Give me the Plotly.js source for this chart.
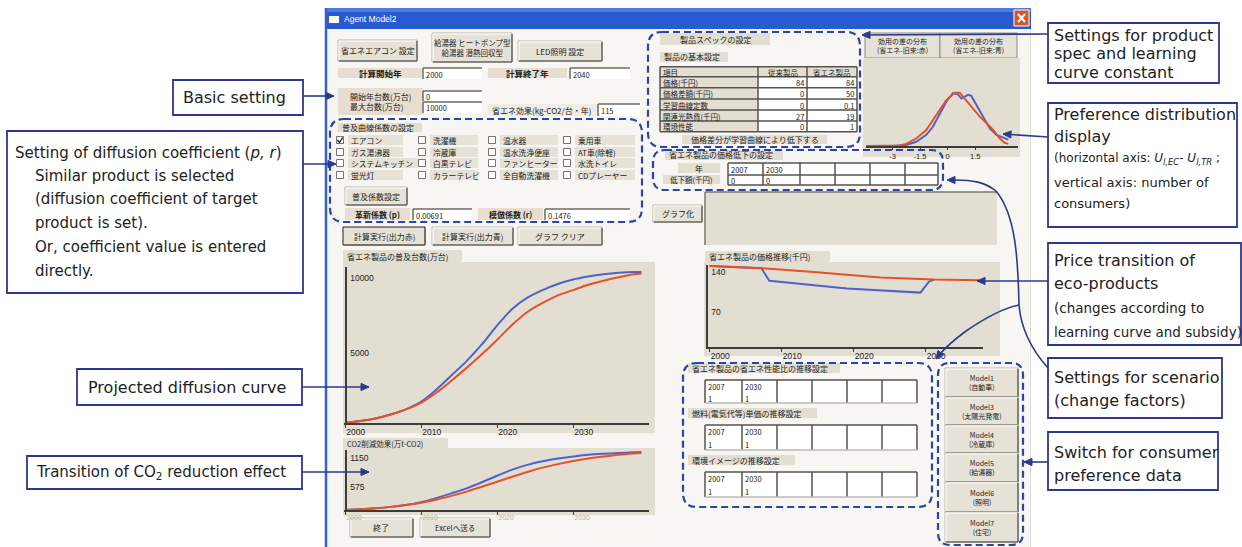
<!DOCTYPE html>
<html><head><meta charset="utf-8">
<script src="https://cdn.plot.ly/plotly-3.0.1.min.js"></script>
<style>html,body{margin:0;padding:0;background:#fff;overflow:hidden}#chart{width:1242px;height:547px}</style>
</head><body><div id="chart"></div>
<script>
// ================= DATA =================
const diffusionYears = [2000,2002,2004,2006,2008,2010,2012,2014,2016,2018,2020,2022,2024,2026,2028,2030,2032,2034,2036,2038,2039];
const diffusionRed   = [0,130,300,560,900,1330,2000,2800,3650,4550,5500,6500,7350,7950,8450,8800,9150,9420,9650,9850,9900];
const diffusionBlue  = [0,130,300,560,900,1400,2200,3150,4100,5200,6450,7550,8300,8800,9200,9500,9700,9850,9950,10000,10000];
const co2Years = [2000,2002,2004,2006,2008,2010,2012,2014,2016,2018,2020,2022,2024,2026,2028,2030,2032,2034,2036,2038,2039];
const co2Red   = [0,15,35,62,100,145,205,280,365,460,560,660,755,840,910,970,1020,1060,1095,1120,1130];
const co2Blue  = [0,15,35,62,100,155,235,330,430,550,680,800,895,965,1020,1060,1095,1115,1130,1145,1150];
const priceYearsRed  = [2000,2007.4,2014.9,2023.7,2031.2,2037.6];
const priceRed       = [140,136,129,120,116.5,115.5];
const priceYearsBlue = [2000,2007.2,2008.3,2019.1,2029.3,2030.5,2031.2];
const priceBlue      = [140,136,114.5,101,94,113,116.5];
const prefRedX  = [-4.44,-2.99,-2.6,-2.26,-1.71,-1.16,-0.80,-0.44,-0.07,0.38,0.66,0.93,1.38,1.75,2.11,2.48,2.84,3.11,3.30];
const prefRedY  = [0,0,1,4,14,30,49,69,86,100,100,89,71,55,43,30,14,6,4];
const prefBlueX = [-2.99,-2.26,-1.71,-1.16,-0.80,-0.44,-0.07,0.29,0.56,0.75,1.11,1.29,1.57,1.93,2.29,2.66,3.02,3.30];
const prefBlueY = [0,2,8,21,36,58,83,99,97,89,96,94,77,55,33,21,16,12];
const diffusionXTicks = [2000,2010,2020,2030];
const diffusionYTicks = [5000,10000];
const co2YTicks = [575,1150];
const priceYTicks = [70,140];
const prefXTicks = [-3,-1.5,0,1.5];
const specItems = ['価格(千円)','価格差額(千円)','学習曲線定数','関連光熱費(千円)','環境性能'];
const specConventional = [84,0,0,27,0];
const specEco = [84,50,0.1,19,1];
const checkboxLabels = [
  ['エアコン','ガス湯沸器','システムキッチン','蛍光灯'],
  ['洗濯機','冷蔵庫','白黒テレビ','カラーテレビ'],
  ['温水器','温水洗浄便座','ファンヒーター','全自動洗濯機'],
  ['乗用車','AT車(除軽)','水洗トイレ','CDプレーヤー']
];
const modelButtons = [['Model1','(自動車)'],['Model3','(太陽光発電)'],['Model4','(冷蔵庫)'],['Model5','(給湯器)'],['Model6','(照明)'],['Model7','(住宅)']];
const scenarioRows = [['2007','2030'],['1','1']];
const priceDropRows = [['2007','2030'],['0','0']];

// ================= HELPERS =================
const W=1242,H=547;
const px=x=>x/W, py=y=>1-y/H;
const shapes=[], ann=[];
const JP='"Noto Sans CJK JP", sans-serif';
const EN='"DejaVu Sans", sans-serif';
const NUM='"Liberation Sans", Arial, sans-serif';
const NAVY='#2b3a8e', DASH='#2b45a6';
const BEIGE='#e3ded2', BTN='#e6e2d8';
const RED='#e8502a', BLUE='#4f62c8';

function rect(x0,y0,x1,y1,fill,lc,lw,layer){shapes.push({type:'rect',xref:'paper',yref:'paper',x0:px(x0),x1:px(x1),y0:py(y1),y1:py(y0),fillcolor:fill||'rgba(0,0,0,0)',line:{color:lc||'rgba(0,0,0,0)',width:lc?(lw||1):0},layer:layer||'below'});}
function seg(x0,y0,x1,y1,c,w,dash,layer){shapes.push({type:'line',xref:'paper',yref:'paper',x0:px(x0),y0:py(y0),x1:px(x1),y1:py(y1),line:{color:c,width:w||1,dash:dash||'solid'},layer:layer||'below'});}
function pathPx(cmds,c,w,dash,fill,layer){
  let s='',isX=true;
  for(const t of cmds){ if(typeof t==='string'){s+=t+' ';isX=true;} else {s+=(isX?px(t):py(t)).toFixed(5)+' ';isX=!isX;} }
  shapes.push({type:'path',xref:'paper',yref:'paper',path:s.trim(),line:{color:c||'rgba(0,0,0,0)',width:c?(w||1):0,dash:dash||'solid'},fillcolor:fill||'rgba(0,0,0,0)',layer:layer||'above'});
}
function txt(x,y,t,o={}){ann.push({xref:'paper',yref:'paper',x:px(x),y:py(y),text:t,showarrow:false,xanchor:o.xa||'left',yanchor:'middle',align:o.align||'left',font:{family:o.f||JP,size:o.s||8,color:o.c||'#222'},borderpad:0});}
function button(x0,y0,x1,y1,lines,o={}){
  rect(x0,y0,x1,y1,BTN,o.pressed?'#222':'#b8b4a9',1);
  seg(x0+1,y1,x1,y1,'#6f6c65',1.6); seg(x1,y0+1,x1,y1,'#6f6c65',1.6);
  if(!o.pressed){seg(x0+1,y0+1,x1-1,y0+1,'#fff',1); seg(x0+1,y0+1,x0+1,y1-1,'#fff',1);}
  txt((x0+x1)/2,(y0+y1)/2,lines.join('<br>'),{xa:'center',align:'center',s:o.s||8,f:o.f||JP});
}
function lab(x0,y0,x1,y1,t,o={}){rect(x0,y0,x1,y1,o.fill||BEIGE); txt(o.center?(x0+x1)/2:x0+3,(y0+y1)/2,t,{xa:o.center?'center':'left',s:o.s||8});}
function inp(x0,y0,x1,y1,t){rect(x0,y0,x1,y1,'#ffffff'); seg(x0,y0,x1,y0,'#6e6b64',1.5); seg(x0,y0,x0,y1,'#6e6b64',1.5); txt(x0+2,(y0+y1)/2+0.5,t,{s:7.5});}
function dbox(x0,y0,x1,y1,r){pathPx(['M',x0+r,y0,'L',x1-r,y0,'Q',x1,y0,x1,y0+r,'L',x1,y1-r,'Q',x1,y1,x1-r,y1,'L',x0+r,y1,'Q',x0,y1,x0,y1-r,'L',x0,y0+r,'Q',x0,y0,x0+r,y0],DASH,2.2,'7px,4px');}
function callout(x0,y0,x1,y1){rect(x0,y0,x1,y1,'#ffffff',NAVY,1.8,'above');}
function head(x,y,dx,dy){const L=8,h=3.6,n=Math.hypot(dx,dy);dx/=n;dy/=n;const bx=x-dx*L,by=y-dy*L;pathPx(['M',x,y,'L',bx-dy*h,by+dx*h,'L',bx+dy*h,by-dx*h,'Z'],NAVY,1,'solid',NAVY);}
function arrow(x0,y0,x1,y1){pathPx(['M',x0,y0,'L',x1,y1],NAVY,1.6); head(x1,y1,x1-x0,y1-y0);}
function gridTable(cols,rows,texts,o={}){
  const xl=cols[0],xr=cols[cols.length-1],yt=rows[0],yb=rows[rows.length-1];
  rect(xl,yt,xr,yb,'#ffffff');
  if(o.fill){for(let r=0;r<rows.length-1;r++)for(let c=0;c<cols.length-1;c++)if(o.fill(r,c))rect(cols[c],rows[r],cols[c+1],rows[r+1],BEIGE);}
  const lc=o.lc||'#55534e';
  cols.forEach(x=>seg(x,yt,x,yb,lc,1.5));
  rows.forEach((y,i)=>{ if(o.allRows||i===0||i===rows.length-1) seg(xl,y,xr,y,i===rows.length-1&&!o.allRows?'#bdbab2':lc,1.5);});
  texts.forEach((row,r)=>row.forEach((t,c)=>{
    if(t===''||t===undefined)return;
    const al=o.align?o.align(r,c):'left';
    const x=al==='right'?cols[c+1]-2:(al==='center'?(cols[c]+cols[c+1])/2:cols[c]+2);
    txt(x,(rows[r]+rows[r+1])/2+0.5,String(t),{xa:al,s:o.s||7.5});
  }));
}

// ================= WINDOW =================
rect(325,8,1031,547,'#f7f6f3');
rect(325,8,1031,29,'#2a5ad0');
rect(325,8,1031,12,'#4a7ce2');
rect(329,16,339,23,'#ffffff');
txt(343,19.5,'Agent Model2',{f:NUM,s:8.5,c:'#ffffff'});
rect(1014,10,1029,26,'#d9542b','#ffffff',1);
seg(1018,14,1025,22,'#fff',2); seg(1025,14,1018,22,'#fff',2);
seg(326,8,326,547,'#3560c8',2.5);
seg(1030.5,29,1030.5,547,'#dddbd5',1);

// top buttons
button(338,40,417,61,['省エネエアコン 設定']);
button(432,33,512,62,['給湯器 ヒートポンプ型','給湯器 潜熱回収型'],{s:7.5});
button(518,41,602,61,['LED照明 設定']);
lab(338,68,422,78,'<b>計算開始年</b>',{center:true,fill:'#e7ddd0',s:8.5});
inp(423,68,482,79,'2000');
lab(488,68,567,78,'<b>計算終了年</b>',{center:true,fill:'#e7ddd0',s:8.5});
inp(570,68,630,79,'2040');
lab(338,88,423,115,'開始年台数(万台)<br>最大台数(万台)',{center:true,fill:'#e7ddd0'});
inp(423,91,482,101,'0');
inp(423,102,482,113,'10000');
lab(488,104,598,116,'省エネ効果(kg-CO2/台・年)',{fill:'#efece5'});
inp(598,104,640,116,'115');

// diffusion coefficient section
dbox(330,119,642,222,14);
lab(338,123,422,132,'普及曲線係数の設定');
const cbX=[340,422,492,567], cbY=[140,152,163,175], cbBg=[[348,403],[430,478],[500,558],[575,635]];
checkboxLabels.forEach((col,c)=>col.forEach((t,r)=>{
  const x=cbX[c],y=cbY[r];
  rect(cbBg[c][0],y-5,(c===0&&r===2)?418:cbBg[c][1],y+5,'#e6e2d8');
  rect(x-3.5,y-3.5,x+3.5,y+3.5,'#ffffff','#77746d',1);
  if(c===0&&r===0) pathPx(['M',x-2.5,y,'L',x-0.5,y+2.5,'L',x+2.8,y-2.5],'#111',1.3);
  txt(x+10,y,t,{s:7.8});
}));
button(345,187,407,205,['普及係数設定']);
lab(345,208,410,220,'<b>革新係数 (p)</b>',{center:true,fill:'#e7ddd0'});
inp(413,209,472,220,'0.00691');
lab(478,208,543,220,'<b>模倣係数 (r)</b>',{center:true,fill:'#e7ddd0'});
inp(545,209,630,220,'0.1476');
button(343,227,425,245,['計算実行(出力赤)'],{pressed:true});
button(432,227,513,245,['計算実行(出力青)']);
button(518,227,602,245,['グラフ クリア']);

// chart backgrounds
lab(343,250,462,262,'省エネ製品の普及台数(万台)');
rect(343,262,655,433,BEIGE);
lab(343,438,448,448,'CO2削減効果(万t-CO2)',{s:7.5});
rect(343,448,655,515,BEIGE);
button(350,518,413,537,['終了']);
button(420,518,490,537,['Excelへ送る'],{s:7.5});

// spec section
dbox(648,32,860,147,14);
lab(660,33,770,45,'製品スペックの設定',{center:true});
lab(660,52,728,62,'製品の基本設定');
const specCols=[660,758,807,857], specRowsY=[66.7,76.7,87.7,99,110,121,131.7];
const specTexts=[['項目','従来製品','省エネ製品']].concat(specItems.map((s,i)=>[s,specConventional[i],specEco[i]]));
gridTable(specCols,specRowsY,specTexts,{allRows:true,fill:(r,c)=>r===0||c===0,align:(r,c)=>r===0?(c===0?'left':'center'):(c===0?'left':'right'),s:7.5});
lab(682,135,827,144,'価格差分が学習曲線により低下する',{center:true});

// preference chart
rect(865,33,940,58,BTN,'#8f8b82',1);
rect(940,33,1017,58,BTN,'#8f8b82',1);
txt(902.5,45.5,'効用の差の分布<br>(省エネ-旧来:赤)',{xa:'center',align:'center',s:7});
txt(978.5,45.5,'効用の差の分布<br>(省エネ-旧来:青)',{xa:'center',align:'center',s:7});
rect(863,58,1020,157,BEIGE);

// price drop section
dbox(653,150,943,190,12);
lab(665,150,783,160,'省エネ製品の価格低下の設定');
lab(678,163,720,173,'年',{center:true});
lab(663,175,720,184,'低下額(千円)',{center:true,s:7.5});
gridTable([728,763,800,835,870,905,938],[163,175,185],priceDropRows,{allRows:true});
button(653,205,702,222,['グラフ化']);
rect(705,192,997,245,BEIGE);
seg(705,192,997,192,'#77746c',1.5); seg(705,192,705,245,'#77746c',1.5);

// price chart background
lab(705,251,830,262,'省エネ製品の価格推移(千円)');
rect(704,262,1000,356,BEIGE);

// scenario section
dbox(683,363,932,507,14);
const scCols=[705,742,777,812,847,882,917];
lab(688,363,840,373,'省エネ製品の省エネ性能比の推移設定');
gridTable(scCols,[380,392,403],scenarioRows,{});
lab(688,408,817,418,'燃料(電気代等)単価の推移設定');
gridTable(scCols,[425,437,450],scenarioRows,{});
lab(688,455,795,465,'環境イメージの推移設定');
gridTable(scCols,[472,484,497],scenarioRows,{});

// model buttons
dbox(938,363,1023,545,12);
const mbY=[368,397,425,453,482,512,542];
modelButtons.forEach((m,i)=>button(945,mbY[i],1018,mbY[i+1],m,{s:7}));

// ================= CALLOUTS =================
const FS=16;
callout(173,80,303,115); txt(182,97,'Basic setting',{f:EN,s:FS});
callout(7,131,303,293);
txt(14,153,'Setting of diffusion coefficient (<i>p, r</i>)',{f:EN,s:15});
[['Similar product is selected',176],['(diffusion coefficient of target',199],['product is set).',223],['Or, coefficient value is entered',247],['directly.',271]].forEach(l=>txt(34,l[1],l[0],{f:EN,s:15}));
callout(77,369,302,405); txt(87,387,'Projected diffusion curve',{f:EN,s:FS});
callout(27,456,302,489); txt(35,472,'Transition of CO<sub>2</sub> reduction effect',{f:EN,s:15});

callout(1048,23,1219,83);
[['Settings for product',35],['spec and learning',54],['curve constant',73]].forEach(l=>txt(1053,l[1],l[0],{f:EN,s:FS}));
callout(1048,103,1237,227);
txt(1053,115,'Preference distribution',{f:EN,s:FS});
txt(1053,137,'display',{f:EN,s:FS});
txt(1053,159,'(horizontal axis: <i>U<sub>l,EC</sub></i>- <i>U<sub>l,TR</sub></i> ;',{f:EN,s:12});
txt(1053,182,'vertical axis: number of',{f:EN,s:13});
txt(1053,203,'consumers)',{f:EN,s:13});
callout(1048,243,1241,345);
txt(1053,260,'Price transition of',{f:EN,s:FS});
txt(1053,283,'eco-products',{f:EN,s:FS});
txt(1053,308,'(changes according to',{f:EN,s:13.5});
txt(1053,332,'learning curve and subsidy)',{f:EN,s:13.5});
callout(1048,358,1222,418);
txt(1053,377,'Settings for scenario',{f:EN,s:FS});
txt(1053,400,'(change factors)',{f:EN,s:FS});
callout(1048,432,1218,490);
txt(1053,452,'Switch for consumer',{f:EN,s:FS});
txt(1053,475,'preference data',{f:EN,s:FS});

// arrows
arrow(303,96,334,96);
arrow(303,164,336,164);
arrow(302,387,369,387);
arrow(302,472,369,472);
arrow(1048,34,862,35);
arrow(1048,137,1003,134);
arrow(1048,281,977,281);
arrow(1048,462,1024,462);
pathPx(['M',1048,368,'C',1032,350,1021,330,1019,305],NAVY,1.6);
pathPx(['M',1019,305,'C',1018,260,1016,215,996,191,'C',985,182,972,180,955,180],NAVY,1.6);
head(947,180,-1,0);
pathPx(['M',1019,305,'C',1003,308,985,318,966,331,'C',954,340,946,347,941,353],NAVY,1.6);
head(936,359,-0.6,0.8);

// ================= TRACES =================
const lw=2;
const traces=[
  {x:diffusionYears,y:diffusionBlue,xaxis:'x',yaxis:'y',mode:'lines',line:{color:BLUE,width:lw,shape:'spline',smoothing:0.8},hoverinfo:'skip'},
  {x:diffusionYears,y:diffusionRed,xaxis:'x',yaxis:'y',mode:'lines',line:{color:RED,width:lw,shape:'spline',smoothing:0.8},hoverinfo:'skip'},
  {x:co2Years,y:co2Blue,xaxis:'x2',yaxis:'y2',mode:'lines',line:{color:BLUE,width:lw,shape:'spline',smoothing:0.8},hoverinfo:'skip'},
  {x:co2Years,y:co2Red,xaxis:'x2',yaxis:'y2',mode:'lines',line:{color:RED,width:lw,shape:'spline',smoothing:0.8},hoverinfo:'skip'},
  {x:priceYearsBlue,y:priceBlue,xaxis:'x3',yaxis:'y3',mode:'lines',line:{color:BLUE,width:lw},hoverinfo:'skip'},
  {x:priceYearsRed,y:priceRed,xaxis:'x3',yaxis:'y3',mode:'lines',line:{color:RED,width:lw},hoverinfo:'skip'},
  {x:prefBlueX,y:prefBlueY,xaxis:'x4',yaxis:'y4',mode:'lines',line:{color:BLUE,width:lw},hoverinfo:'skip'},
  {x:prefRedX,y:prefRedY,xaxis:'x4',yaxis:'y4',mode:'lines',line:{color:RED,width:lw},hoverinfo:'skip'}
];

function xAxis(d,range,anchor,tickvals,o={}){
  return {domain:[px(d[0]),px(d[1])],range,anchor,tickmode:'array',tickvals,ticktext:tickvals.map(String),showgrid:false,zeroline:false,showline:true,linecolor:'#3c3c3c',linewidth:1.5,ticks:'outside',ticklen:o.tl||3,tickwidth:1,tickcolor:'#3c3c3c',ticklabelposition:o.tlp||'outside right',tickfont:{family:NUM,size:o.fs||8.5,color:o.fc||'#222'},fixedrange:true};
}
function yAxis(d,linePos,range,tickvals,o={}){
  return {domain:[py(d[0]),py(d[1])],range,anchor:'free',position:px(linePos),side:'right',tickmode:'array',tickvals,ticktext:tickvals.map(String),showgrid:false,zeroline:false,showline:o.line!==false,linecolor:'#3c3c3c',linewidth:1.5,ticks:'',ticklabelposition:'outside bottom',ticklabelstandoff:2,showticklabels:tickvals.length>0,tickfont:{family:NUM,size:8.5,color:'#222'},fixedrange:true};
}

const layout={
  width:W,height:H,margin:{l:0,r:0,t:0,b:0},paper_bgcolor:'#ffffff',plot_bgcolor:'rgba(0,0,0,0)',showlegend:false,
  xaxis: xAxis([343.5,649],[1999.8,2040],'y',diffusionXTicks),
  yaxis: yAxis([423,267],345,[0,10330],diffusionYTicks),
  xaxis2: xAxis([343.5,649],[1999.8,2040],'y2',diffusionXTicks,{fc:'#b5b2aa',fs:7}),
  yaxis2: yAxis([510,450],345,[0,1190],co2YTicks),
  xaxis3: xAxis([706,983],[1999.5,2038],'y3',diffusionXTicks),
  yaxis3: yAxis([347,265],706,[0,141.7],priceYTicks),
  xaxis4: xAxis([866,1018],[-4.44,3.83],'y4',prefXTicks,{tlp:'outside',fs:7.5,tl:2}),
  yaxis4: yAxis([146,62],866,[0,157.6],[],{line:false}),
  shapes, annotations:ann
};
Plotly.newPlot('chart',traces,layout,{displayModeBar:false,staticPlot:true});
</script></body></html>
